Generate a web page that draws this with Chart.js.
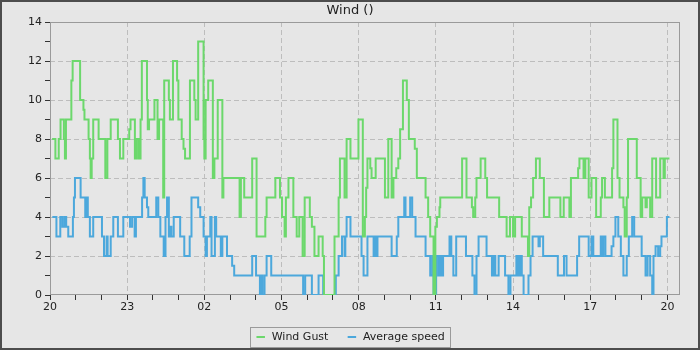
<!DOCTYPE html>
<html>
<head>
<meta charset="utf-8">
<script src="https://cdn.jsdelivr.net/npm/chart.js@4/dist/chart.umd.min.js"></script>
<style>
  html, body { margin: 0; padding: 0; background: #e6e6e6; }
  canvas { display: block; }
</style>
</head>
<body>
<canvas id="graph" width="700" height="350" style="width:700px;height:350px"></canvas>
<script>
// hours since 20:00, value changes (stepped)
const chartTitle = 'Wind ()'
const startHour = 20
const seriesNames = ['Wind Gust', 'Average speed']

const gustTime = [0.08, 0.21, 0.34, 0.41, 0.54, 0.58, 0.62, 0.83, 0.88, 1.17, 1.3, 1.34, 1.5, 1.55, 1.58, 1.62, 1.68, 1.89, 2.15, 2.23,
  2.36, 2.64, 2.72, 2.85, 3.08, 3.13, 3.3, 3.37, 3.45, 3.52, 3.57, 3.77, 3.8, 3.85, 4.06, 4.18, 4.24, 4.4, 4.44, 4.62,
  4.66, 4.78, 4.94, 4.99, 5.12, 5.19, 5.25, 5.44, 5.61, 5.66, 5.76, 5.97, 6.0, 6.05, 6.15, 6.33, 6.39, 6.52, 6.7, 6.74,
  7.37, 7.42, 7.55, 7.86, 8.03, 8.37, 8.42, 8.76, 8.94, 9.02, 9.12, 9.17, 9.27, 9.46, 9.59, 9.69, 9.82, 9.9, 10.1, 10.18,
  10.28, 10.44, 10.6, 10.65, 11.06, 11.22, 11.27, 11.45, 11.53, 11.68, 11.99, 12.16, 12.24, 12.29, 12.34, 12.45, 12.5, 12.66, 13.02, 13.15,
  13.28, 13.35, 13.46, 13.54, 13.61, 13.72, 13.87, 13.95, 14.18, 14.26, 14.6, 14.7, 14.78, 14.91, 14.98, 15.04, 15.14, 15.17, 16.02, 16.19,
  16.4, 16.45, 16.53, 16.58, 16.74, 16.92, 16.99, 17.46, 17.75, 17.88, 18.0, 18.08, 18.34, 18.58, 18.63, 18.7, 18.78, 18.89, 19.04, 19.2,
  19.41, 19.84, 19.97, 20.19, 20.25, 20.53, 20.58, 20.74, 20.81, 20.94, 21.05, 21.23, 21.41, 21.46, 21.57, 21.85, 21.9, 22.06, 22.14, 22.29,
  22.34, 22.42, 22.47, 22.81, 22.96, 23.02, 23.15, 23.2, 23.33, 23.41, 23.56, 23.72, 23.85, 23.9, 24.08]
const gustSpeed = [8, 7, 8, 9, 8, 7, 9, 11, 12, 10, 9.5, 9, 8, 7, 6, 7, 9, 8, 6, 8,
  9, 8, 7, 8, 8.5, 9, 7, 8, 7, 9, 12, 10, 8.5, 9, 10, 8, 9, 5, 11, 10,
  9, 12, 11, 9, 8, 7.5, 7, 11, 10, 9, 13, 8, 7, 10, 11, 6, 7, 10, 5, 6,
  4, 6, 5, 7, 3, 4, 5, 6, 5, 4, 3, 5, 6, 4, 3, 4, 2, 5, 4, 3.5,
  2, 3, 2, 0, 3, 5, 7, 5, 8, 7, 9, 3, 4, 5.5, 7, 6.5, 6, 7, 5, 8,
  5, 6, 6.5, 7, 8.5, 11, 10, 8, 7.5, 6, 5, 4, 3, 0, 3.5, 4, 4.5, 5, 7, 5,
  4.5, 4, 5, 6, 7, 6, 5, 4, 3, 4, 3, 4, 3, 2, 4.5, 5, 6, 7, 6, 4,
  5, 4, 5, 4, 6, 6.5, 7, 6, 7, 5, 6, 4, 5, 6, 5, 6.5, 9, 6, 5, 4.5,
  3, 5, 8, 6, 4, 5, 4.5, 5, 4, 7, 5, 7, 6, 7, 7]

const avgTime = [0.09, 0.25, 0.4, 0.48, 0.56, 0.63, 0.71, 0.89, 0.93, 0.97, 1.19, 1.37, 1.42, 1.47, 1.55, 1.68, 2.02, 2.1, 2.2, 2.24,
  2.36, 2.46, 2.64, 2.85, 3.11, 3.19, 3.29, 3.34, 3.58, 3.63, 3.68, 3.77, 3.82, 4.13, 4.21, 4.29, 4.42, 4.49, 4.55, 4.62,
  4.68, 4.72, 4.81, 5.06, 5.22, 5.43, 5.5, 5.76, 5.84, 5.97, 6.05, 6.1, 6.23, 6.28, 6.41, 6.46, 6.64, 6.7, 6.88, 7.08,
  7.16, 7.86, 8.01, 8.16, 8.21, 8.26, 8.34, 8.42, 8.6, 9.84, 9.92, 10.18, 10.44, 10.62, 11.11, 11.22, 11.35, 11.45, 11.48, 11.53,
  11.68, 12.11, 12.19, 12.34, 12.58, 12.63, 12.68, 12.73, 13.28, 13.48, 13.54, 13.77, 13.82, 14.0, 14.08, 14.21, 14.6, 14.78, 14.86, 14.91,
  15.01, 15.09, 15.15, 15.22, 15.28, 15.53, 15.6, 15.68, 15.79, 16.17, 16.42, 16.5, 16.58, 16.66, 16.97, 17.18, 17.25, 17.31, 17.44, 17.69,
  17.82, 17.9, 18.13, 18.2, 18.27, 18.34, 18.41, 18.6, 18.68, 18.76, 18.99, 19.04, 19.17, 19.74, 19.98, 20.08, 20.49, 20.57, 20.94, 21.05,
  21.12, 21.41, 21.46, 21.51, 21.59, 21.83, 21.9, 21.98, 22.09, 22.19, 22.29, 22.42, 22.5, 22.63, 22.71, 23.0, 23.15, 23.23, 23.33, 23.41,
  23.46, 23.54, 23.64, 23.72, 23.77, 23.98, 24.08]
const avgSpeed = [4, 3, 4, 3.5, 4, 3.5, 3, 4, 5, 6, 5, 4, 5, 4, 3, 4, 3, 2, 3, 2,
  3, 4, 3, 4, 3.5, 4, 3, 4, 5, 6, 5, 4.5, 4, 5, 4, 3, 2, 4, 5, 3,
  3.5, 3, 4, 3, 2, 3, 5, 4.5, 4, 3, 2, 3, 4, 2, 4, 3, 2, 3, 2, 1.5,
  1, 2, 1, 0, 1, 0, 1, 2, 1, 0, 1, 0, 1, 0, 1, 2, 3, 2, 3, 4,
  3, 2, 1, 3, 2, 3, 2, 3, 2, 3, 4, 5, 4, 5, 4, 3, 2, 1, 2, 0,
  2, 1, 2, 1, 2, 3, 2, 1, 3, 2, 1, 0, 2, 3, 2, 1, 2, 1, 2, 1,
  0, 1, 2, 1, 2, 1, 0, 1, 2, 3, 2.5, 3, 2, 1, 2, 1, 2, 3, 2, 3,
  2, 3, 2, 3, 2, 2.5, 3, 4, 3, 2, 1, 2, 3, 4, 3, 2, 1, 2, 1, 0,
  2, 2.5, 2, 2.5, 3, 4, 4]

const yTicks = [0, 2, 4, 6, 8, 10, 12, 14]
const xMax = 24.49

const toPoints = (t, v) => t.map((x, i) => ({ x: x, y: v[i] }))

const bgColor = '#e6e6e6'
const gridColor = '#bdbdbd'
const textColor = '#222'

const frame = {
  id: 'frame',
  beforeDraw(chart) {
    const c = chart.ctx
    c.save()
    c.fillStyle = bgColor
    c.fillRect(0, 0, chart.width, chart.height)
    c.restore()
  },
  beforeDatasetsDraw(chart) {
    const a = chart.chartArea
    const c = chart.ctx
    c.save()
    c.strokeStyle = '#9a9a9a'
    c.lineWidth = 1
    c.strokeRect(Math.round(a.left) + 0.5, Math.round(a.top) + 0.5, Math.round(a.right - a.left) - 1, Math.round(a.bottom - a.top) - 1)
    c.restore()
  },
  afterDraw(chart) {
    const c = chart.ctx
    const boxes = chart.legend.legendHitBoxes
    c.save()
    if (boxes && boxes.length) {
      const first = boxes[0], last = boxes[boxes.length - 1]
      const cy = first.top + first.height / 2
      c.strokeStyle = '#9a9a9a'
      c.lineWidth = 1
      c.strokeRect(Math.round(first.left - 5) + 0.5, Math.round(cy - 10) + 0.5, Math.round(last.left + last.width + 10 - first.left), 20)
    }
    c.strokeStyle = '#4d4d4d'
    c.lineWidth = 2
    c.strokeRect(1, 1, chart.width - 2, chart.height - 2)
    c.restore()
  }
}

Chart.defaults.font.family = 'DejaVu Sans'
Chart.defaults.color = textColor

let graph = document.getElementById('graph').getContext('2d')

new Chart(graph, {
  type: 'line',
  data: {
    datasets: [
      {
        label: seriesNames[0],
        data: toPoints(gustTime, gustSpeed),
        borderColor: '#6cd86c',
        backgroundColor: '#6cd86c',
        borderWidth: 2,
        pointRadius: 0,
        stepped: true,
        fill: false
      },
      {
        label: seriesNames[1],
        data: toPoints(avgTime, avgSpeed),
        borderColor: '#4ca8dc',
        backgroundColor: '#4ca8dc',
        borderWidth: 2,
        pointRadius: 0,
        stepped: true,
        fill: false
      }
    ]
  },
  options: {
    responsive: false,
    animation: false,
    events: [],
    layout: { padding: { top: 0, left: 0, right: 0, bottom: -2.5 } },
    plugins: {
      title: {
        display: true,
        text: chartTitle,
        color: textColor,
        font: { size: 13, weight: 'normal' },
        padding: { top: 3, bottom: 3.4 }
      },
      legend: {
        position: 'bottom',
        labels: {
          usePointStyle: true,
          pointStyle: 'line',
          boxHeight: 6,
          padding: 18,
          color: textColor,
          font: { size: 11 }
        }
      },
      tooltip: { enabled: false }
    },
    scales: {
      x: {
        type: 'linear',
        min: 0,
        max: xMax,
        afterFit: s => { s.height = 18.5 },
        ticks: {
          stepSize: 1,
          autoSkip: false,
          maxRotation: 0,
          includeBounds: false,
          padding: 1,
          color: textColor,
          font: { size: 11 },
          callback: v => v % 3 === 0 ? String((startHour + v) % 24).padStart(2, '0') : ''
        },
        grid: {
          color: ctx => (ctx.tick && ctx.tick.value % 3 === 0 && ctx.tick.value > 0) ? gridColor : 'transparent',
          tickColor: '#333',
          tickLength: 5
        },
        border: { display: false, dash: [5, 3] }
      },
      y: {
        min: 0,
        max: 14,
        afterFit: s => { s.width = 50 },
        ticks: {
          stepSize: 1,
          autoSkip: false,
          padding: 3,
          color: textColor,
          font: { size: 11 },
          callback: v => yTicks.includes(v) ? v : ''
        },
        grid: {
          color: ctx => (ctx.tick && yTicks.includes(ctx.tick.value) && ctx.tick.value > 0 && ctx.tick.value < 14) ? gridColor : 'transparent',
          tickColor: '#333',
          tickLength: 5
        },
        border: { display: false, dash: [5, 3] }
      },
      y2: {
        position: 'right',
        afterFit: s => { s.width = 20 },
        grid: { display: false },
        ticks: { display: false },
        border: { display: false }
      }
    }
  },
  plugins: [frame]
})
</script>
</body>
</html>
